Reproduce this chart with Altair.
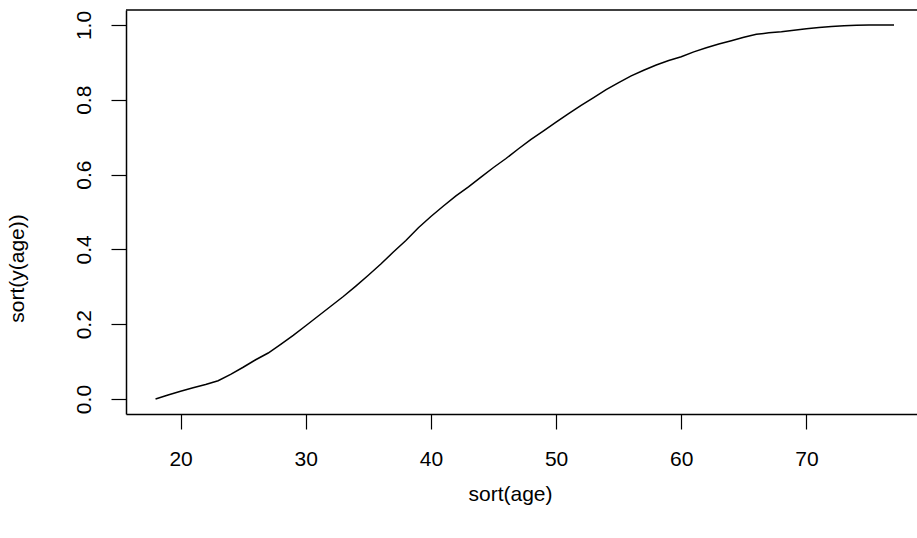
import altair as alt
import pandas as pd

# Sorted ages and the cumulative share of observations at or below each age
ages = list(range(18, 78))
cum_share = [
    0.000, 0.011, 0.021, 0.030, 0.039, 0.049, 0.066, 0.085, 0.105, 0.123,
    0.146, 0.170, 0.196, 0.222, 0.248, 0.274, 0.302, 0.331, 0.361, 0.393,
    0.424, 0.458, 0.488, 0.516, 0.543, 0.567, 0.593, 0.619, 0.643, 0.669,
    0.694, 0.717, 0.740, 0.763, 0.785, 0.806, 0.827, 0.846, 0.864, 0.879,
    0.893, 0.905, 0.915, 0.928, 0.939, 0.949, 0.958, 0.967, 0.975, 0.979,
    0.982, 0.986, 0.990, 0.993, 0.996, 0.998, 0.999, 1.000, 1.000, 1.000,
]
x_ticks = [20, 30, 40, 50, 60, 70]
y_ticks = [0.0, 0.2, 0.4, 0.6, 0.8, 1.0]

df = pd.DataFrame({"age": ages, "share": cum_share})

FONT = "Liberation Sans"
W, H = 791, 404
X_DOMAIN = [15.64, 15.64 + W / 12.517]
Y_DOMAIN = [-0.04, 1.04]

x_axis = alt.Axis(
    values=x_ticks, format="d", grid=False,
    domain=True, domainColor="black", domainWidth=1.5,
    ticks=True, tickColor="black", tickWidth=1.2, tickSize=15,
    labelFont=FONT, labelFontSize=21, labelColor="black",
    labelBaseline="alphabetic", labelPadding=36, labelFlush=False,
    title="sort(age)", titleFont=FONT, titleFontSize=21,
    titleFontWeight="normal", titleColor="black",
    titleAlign="center", titleBaseline="alphabetic",
    titleX=384, titleY=86, titleAnchor="start",
)
y_axis = alt.Axis(
    values=y_ticks, format=".1f", grid=False,
    domain=True, domainColor="black", domainWidth=1.5,
    ticks=True, tickColor="black", tickWidth=1.2, tickSize=15,
    labelFont=FONT, labelFontSize=21, labelColor="black",
    labelAngle=270, labelAlign="center", labelBaseline="alphabetic",
    labelPadding=21, labelFlush=False,
    title="sort(y(age))", titleFont=FONT, titleFontSize=21,
    titleFontWeight="normal", titleColor="black",
    titleAngle=270, titleAlign="center", titleBaseline="alphabetic",
    titleX=-103, titleY=258, titleAnchor="start",
)

curve = alt.Chart(df).mark_line(color="black", strokeWidth=1.5).encode(
    x=alt.X("age:Q", scale=alt.Scale(domain=X_DOMAIN, nice=False, zero=False), axis=x_axis),
    y=alt.Y("share:Q", scale=alt.Scale(domain=Y_DOMAIN, nice=False, zero=False), axis=y_axis),
)

# top edge of the plot frame
frame_top = alt.Chart(pd.DataFrame({"k": [0]})).mark_rule(
    color="black", strokeWidth=1.5
).encode(x=alt.value(0), x2=alt.value(W), y=alt.value(0))

chart = alt.layer(curve, frame_top).properties(
    width=W, height=H,
    autosize=alt.AutoSizeParams(type="none"),
    padding={"left": 126, "top": 10, "right": 0, "bottom": 124},
    background="white",
).configure_view(stroke=None)

chart.save("out.html", embed_options={"renderer": "svg", "actions": False})
